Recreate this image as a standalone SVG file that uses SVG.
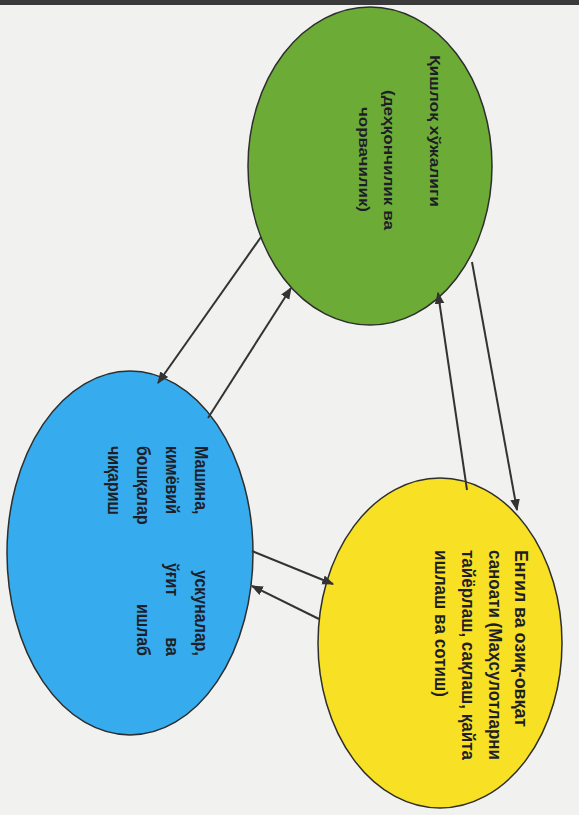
<svg xmlns="http://www.w3.org/2000/svg" width="579" height="815" viewBox="0 0 579 815">
<defs>
<style>
.bg{fill:#f1f1ef}
.node{stroke:#2e2e2e;stroke-width:1.5}
.t{font-family:"Liberation Sans","DejaVu Sans",sans-serif;font-weight:bold;fill:#1e1e28}
.edge{stroke:#333;stroke-width:2;fill:none;marker-end:url(#ah)}
</style>
<marker id="ah" viewBox="0 0 10 10" refX="9" refY="5" markerWidth="6" markerHeight="6" orient="auto" markerUnits="strokeWidth">
<path d="M0,1 L10,5 L0,9 Z" fill="#333"/>
</marker>
</defs>
<rect class="bg" x="0" y="0" width="579" height="815"/>
<rect x="0" y="0" width="579" height="5" fill="#3a3a3a"/>

<g id="green">
<ellipse class="node" cx="370" cy="166" rx="122" ry="159" fill="#6cac36"/>
<text class="t" font-size="14" transform="translate(430,55) rotate(90)" textLength="152" lengthAdjust="spacingAndGlyphs">Қишлоқ хўжалиги</text>
<text class="t" font-size="14" transform="translate(384,90) rotate(90)" textLength="140" lengthAdjust="spacingAndGlyphs">(деҳқончилик ва</text>
<text class="t" font-size="14" transform="translate(359,107) rotate(90)" textLength="105" lengthAdjust="spacingAndGlyphs">чорвачилик)</text>
</g>

<g id="blue">
<ellipse class="node" cx="130" cy="553" rx="123" ry="182" fill="#36acee"/>
<text class="t" font-size="16" transform="translate(195,446) rotate(90) scale(1,1.2)">Машина,</text>
<text class="t" font-size="16" text-anchor="end" transform="translate(195,656) rotate(90) scale(1,1.2)">ускуналар,</text>
<text class="t" font-size="16" transform="translate(166,446) rotate(90) scale(1,1.2)">кимёвий</text>
<text class="t" font-size="16" transform="translate(166,563) rotate(90) scale(1,1.2)">ўғит</text>
<text class="t" font-size="16" text-anchor="end" transform="translate(166,656) rotate(90) scale(1,1.2)">ва</text>
<text class="t" font-size="16" transform="translate(137,446) rotate(90) scale(1,1.2)">бошқалар</text>
<text class="t" font-size="16" text-anchor="end" transform="translate(137,656) rotate(90) scale(1,1.2)">ишлаб</text>
<text class="t" font-size="16" transform="translate(108,446) rotate(90) scale(1,1.2)">чиқариш</text>
</g>

<g id="yellow">
<ellipse class="node" cx="440" cy="643" rx="122" ry="165" fill="#f8e024"/>
<text class="t" font-size="16" transform="translate(515,550) rotate(90) scale(1,1.15)" textLength="177" lengthAdjust="spacingAndGlyphs">Енгил ва озиқ-овқат</text>
<text class="t" font-size="16" transform="translate(489,550) rotate(90) scale(1,1.15)" textLength="210" lengthAdjust="spacingAndGlyphs">саноати (Маҳсулотларни</text>
<text class="t" font-size="16" transform="translate(462,550) rotate(90) scale(1,1.15)" textLength="210" lengthAdjust="spacingAndGlyphs">тайёрлаш, сақлаш, қайта</text>
<text class="t" font-size="16" transform="translate(435,550) rotate(90) scale(1,1.15)" textLength="147" lengthAdjust="spacingAndGlyphs">ишлаш ва сотиш)</text>
</g>

<g id="connectors">
<line class="edge" x1="261" y1="237" x2="158" y2="383"/>
<line class="edge" x1="208" y1="418" x2="291" y2="288"/>
<line class="edge" x1="472" y1="262" x2="517" y2="510"/>
<line class="edge" x1="467" y1="490" x2="438" y2="293"/>
<line class="edge" x1="252" y1="551" x2="333" y2="584"/>
<line class="edge" x1="319" y1="619" x2="252" y2="586"/>
</g>
</svg>
